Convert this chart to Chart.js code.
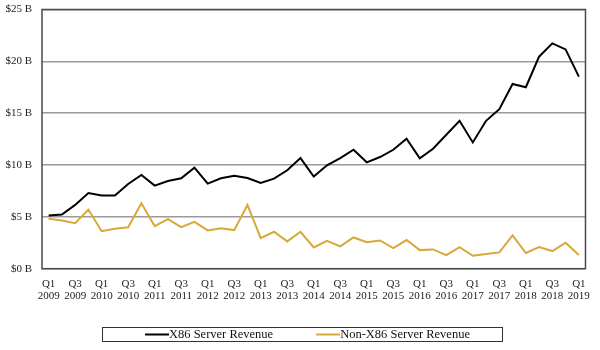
<!DOCTYPE html>
<html>
<head>
<meta charset="utf-8">
<script src="https://cdn.jsdelivr.net/npm/chart.js@4"></script>
<style>
  html, body { margin: 0; padding: 0; background: #fff; }
  #wrap { width: 600px; height: 350px; }
</style>
</head>
<body>
<div id="wrap"><canvas id="revChart" width="600" height="350"></canvas></div>
<script>
const quarters = [
  'Q1 2009','Q2 2009','Q3 2009','Q4 2009','Q1 2010','Q2 2010','Q3 2010','Q4 2010',
  'Q1 2011','Q2 2011','Q3 2011','Q4 2011','Q1 2012','Q2 2012','Q3 2012','Q4 2012',
  'Q1 2013','Q2 2013','Q3 2013','Q4 2013','Q1 2014','Q2 2014','Q3 2014','Q4 2014',
  'Q1 2015','Q2 2015','Q3 2015','Q4 2015','Q1 2016','Q2 2016','Q3 2016','Q4 2016',
  'Q1 2017','Q2 2017','Q3 2017','Q4 2017','Q1 2018','Q2 2018','Q3 2018','Q4 2018',
  'Q1 2019'
]
const x86Revenue = [5.13,5.22,6.15,7.3,7.05,7.05,8.17,9.04,8.01,8.46,8.72,9.74,8.2,8.72,8.97,8.75,
  8.27,8.69,9.49,10.67,8.88,9.97,10.67,11.47,10.26,10.77,11.47,12.53,10.64,11.57,12.92,14.26,
  12.18,14.26,15.38,17.82,17.5,20.45,21.73,21.15,18.53]
const nonX86Revenue = [4.81,4.65,4.39,5.7,3.62,3.85,4.0,6.31,4.1,4.78,4.0,4.52,3.69,3.91,3.72,6.15,
  2.95,3.56,2.63,3.56,2.05,2.69,2.15,3.01,2.56,2.72,1.99,2.76,1.79,1.86,1.31,2.08,
  1.25,1.41,1.57,3.2,1.51,2.08,1.7,2.5,1.31]
const yTicks = [0,5,10,15,20,25]

const serif = 'Liberation Serif'
const gold = '#D7A93A'

// frame round the plot area
const framePlugin = {
  id: 'frame',
  afterDatasetsDraw(chart) {
    const {ctx, chartArea: a} = chart
    ctx.save()
    ctx.strokeStyle = '#4a4a4a'
    ctx.lineWidth = 1.5
    ctx.strokeRect(a.left, a.top, a.right - a.left, a.bottom - a.top)
    ctx.restore()
  }
}

// boxed legend under the axis labels
const boxLegend = {
  id: 'boxLegend',
  afterDraw(chart) {
    const ctx = chart.ctx
    const y = 334.5
    ctx.save()
    ctx.strokeStyle = '#333'
    ctx.lineWidth = 1
    ctx.strokeRect(102.5, 327.5, 400, 14)
    ctx.font = '12.5px "' + serif + '"'
    ctx.textBaseline = 'middle'
    ctx.fillStyle = '#111'
    let x = 145
    chart.data.datasets.forEach(ds => {
      ctx.strokeStyle = ds.borderColor
      ctx.lineWidth = 2
      ctx.beginPath()
      ctx.moveTo(x, y)
      ctx.lineTo(x + 24, y)
      ctx.stroke()
      x += 24
      ctx.fillText(ds.label, x, y)
      x += ctx.measureText(ds.label).width + 43
    })
    ctx.restore()
  }
}

let chart = new Chart(document.getElementById('revChart').getContext('2d'), {
  type: 'line',
  data: {
    labels: quarters,
    datasets: [{
      label: 'X86 Server Revenue',
      data: x86Revenue,
      borderColor: '#000',
      borderWidth: 2,
      pointRadius: 0,
      tension: 0,
      fill: false
    }, {
      label: 'Non-X86 Server Revenue',
      data: nonX86Revenue,
      borderColor: gold,
      borderWidth: 2,
      pointRadius: 0,
      tension: 0,
      fill: false
    }]
  },
  options: {
    responsive: false,
    animation: false,
    layout: { padding: { left: 6, right: 12, top: 9.5, bottom: 38 } },
    plugins: { legend: { display: false }, tooltip: { enabled: false } },
    scales: {
      x: {
        offset: true,
        grid: { display: false, drawTicks: false },
        border: { display: false },
        ticks: {
          autoSkip: false,
          maxRotation: 0,
          padding: 10,
          color: '#222',
          font: { family: serif, size: 11, lineHeight: 1.06 },
          callback: (v, i) => i % 2 === 0 ? quarters[i].split(' ') : ''
        }
      },
      y: {
        min: yTicks[0],
        max: yTicks[yTicks.length - 1],
        grid: { color: '#9a9a9a', lineWidth: 1.5, drawTicks: false },
        border: { display: false },
        afterFit: axis => {
          axis.width = 36
          axis.paddingTop = 0
          axis.paddingBottom = 0
        },
        afterBuildTicks: axis => { axis.ticks = yTicks.map(v => ({ value: v })) },
        ticks: {
          padding: 10,
          color: '#222',
          font: { family: serif, size: 11 },
          callback: v => '$' + v + ' B'
        }
      }
    }
  },
  plugins: [framePlugin, boxLegend]
})
</script>
</body>
</html>
